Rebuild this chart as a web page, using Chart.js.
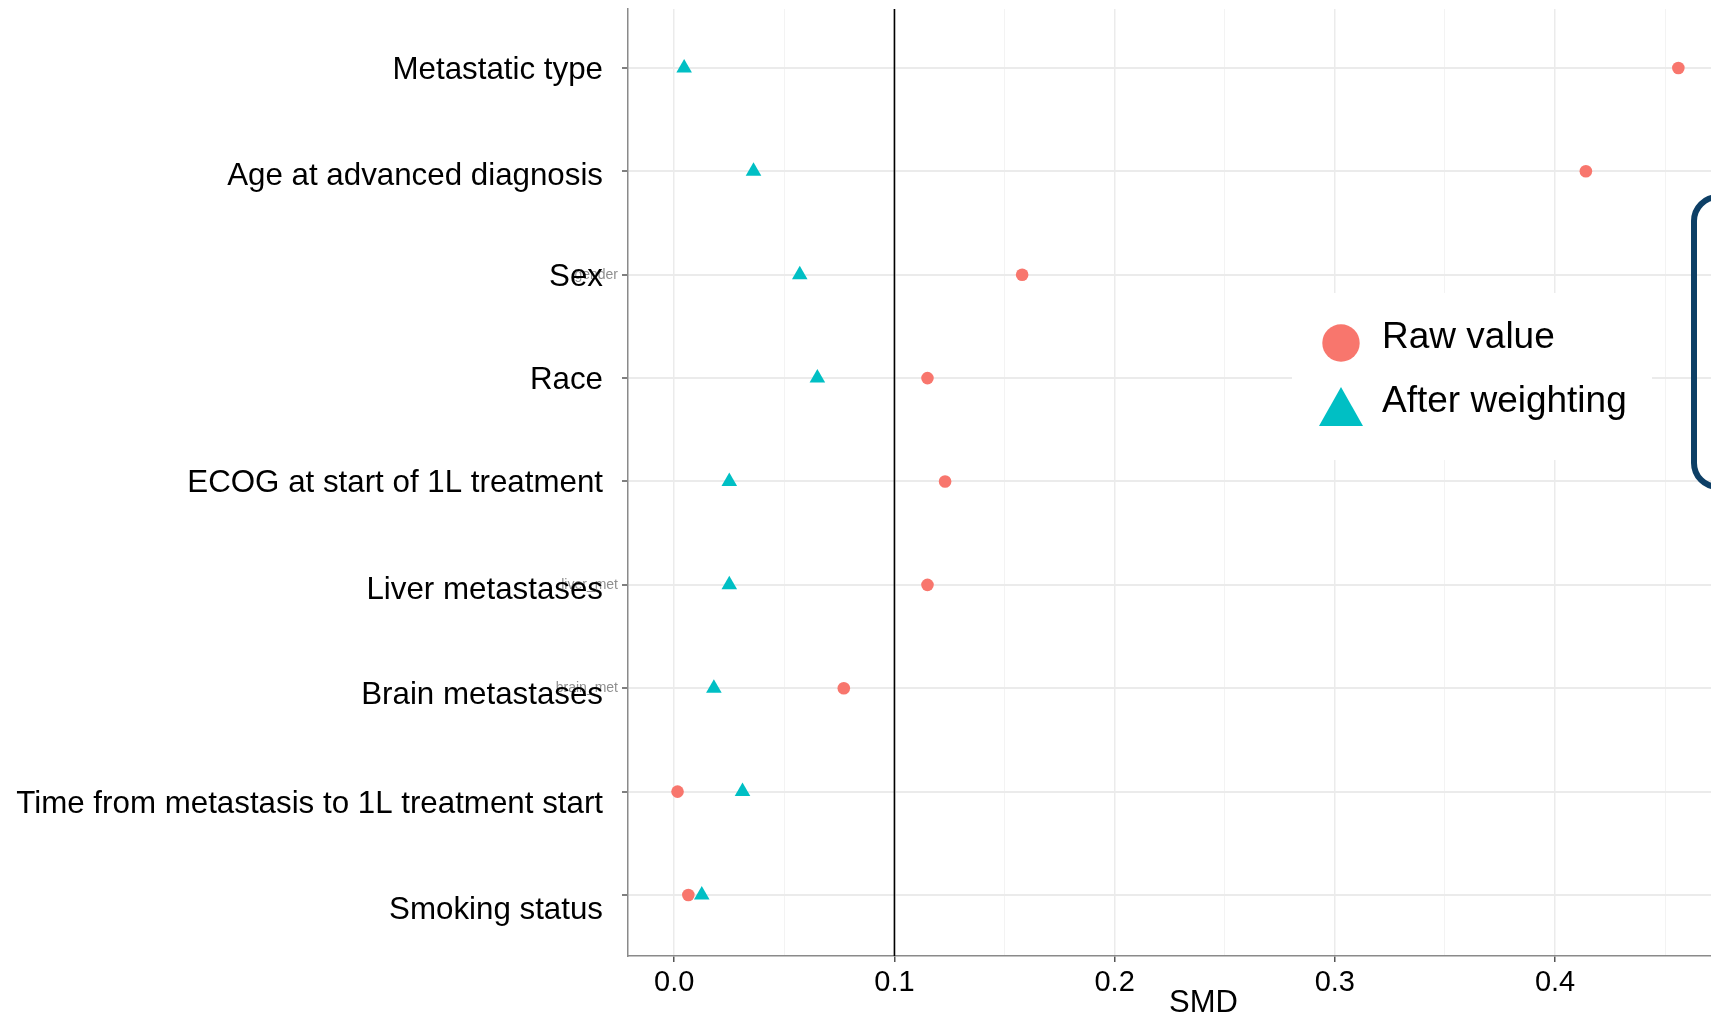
<!DOCTYPE html>
<html>
<head>
<meta charset="utf-8">
<title>Covariate balance: standardized mean differences</title>
<script src="https://cdn.jsdelivr.net/npm/chart.js@4.4.1/dist/chart.umd.min.js"></script>
<style>
  html, body { margin: 0; padding: 0; background: #ffffff; overflow: hidden; }
  #wrap { width: 1711px; height: 1015px; overflow: hidden; position: relative; }
  canvas { display: block; }
</style>
</head>
<body>
<div id="wrap"><canvas id="smd" width="1745" height="1015"></canvas></div>
<script>
// Covariates, top to bottom
const covariates = [
  'Metastatic type',
  'Age at advanced diagnosis',
  'Sex',
  'Race',
  'ECOG at start of 1L treatment',
  'Liver metastases',
  'Brain metastases',
  'Time from metastasis to 1L treatment start',
  'Smoking status'
];
// Variable names from the analysis dataset, shown faintly behind some labels
const sourceNames = ['', '', 'gender', '', '', 'liver_met', 'brain_met', '', ''];

// Standardized mean differences
const rawValue       = [0.456, 0.414, 0.158, 0.115, 0.123, 0.115, 0.077, 0.0015, 0.0064];
const afterWeighting = [0.0045, 0.036, 0.057, 0.065, 0.025, 0.025, 0.018, 0.031, 0.0125];

const seriesNames  = ['Raw value', 'After weighting'];
const seriesColors = ['#F8766D', '#00BFC4'];

const majorTicks = [0, 0.1, 0.2, 0.3, 0.4];
const minorTicks = [0.05, 0.15, 0.25, 0.35, 0.45];
const threshold  = 0.1;
const axisTitle  = 'SMD';

const FONT = '"Liberation Sans", Arial, Helvetica, sans-serif';

const toPoints = vals => vals.map((v, i) => ({ x: v, y: i + 1 }));

// Extra drawing: background, covariate labels, threshold line,
// inset legend, axis title and the callout frame at the right edge.
const decorations = {
  id: 'decorations',
  beforeDraw(chart, args, opts) {
    const { ctx, scales, chartArea } = chart;
    ctx.save();
    ctx.fillStyle = '#ffffff';
    ctx.fillRect(0, 0, chart.width, chart.height);
    // faint dataset variable names
    ctx.font = '14px ' + FONT;
    ctx.fillStyle = '#8f8f8f';
    ctx.textAlign = 'right';
    ctx.textBaseline = 'middle';
    sourceNames.forEach((name, i) => {
      if (!name) return;
      ctx.fillText(name, chartArea.left - 10, scales.y.getPixelForValue(i + 1));
    });
    // covariate labels on top
    const yl = opts.yLabels;
    ctx.font = yl.fontSize + 'px ' + FONT;
    ctx.fillStyle = '#000000';
    ctx.textBaseline = 'alphabetic';
    covariates.forEach((name, i) => {
      const y = scales.y.getPixelForValue(i + 1) + yl.baselineDrop + yl.nudge[i];
      ctx.fillText(name, chartArea.left - yl.gap, y);
    });
    ctx.restore();
  },
  beforeDatasetsDraw(chart, args, opts) {
    const { ctx, chartArea, scales } = chart;
    ctx.save();
    // legend backdrop hides the grid behind the key
    const b = opts.legendBox;
    ctx.fillStyle = '#ffffff';
    ctx.fillRect(b.x, b.y, b.w, b.h);
    // 0.1 balance threshold
    const tx = scales.x.getPixelForValue(threshold);
    ctx.strokeStyle = '#000000';
    ctx.lineWidth = 1.6;
    ctx.beginPath();
    ctx.moveTo(tx, chartArea.top);
    ctx.lineTo(tx, chartArea.bottom);
    ctx.stroke();
    ctx.restore();
  },
  afterDraw(chart, args, opts) {
    const { ctx } = chart;
    ctx.save();
    // inset legend
    const L = opts.legend;
    const order = [1, 0]; // dataset indices: Raw value first, then After weighting
    order.forEach((di, row) => {
      const ds = chart.data.datasets[di];
      const cy = L.rows[row];
      const my = cy + L.markerDrop;
      ctx.fillStyle = ds.backgroundColor;
      ctx.beginPath();
      if (ds.pointStyle === 'triangle') {
        ctx.moveTo(L.markerX, my - L.triH / 2);
        ctx.lineTo(L.markerX + L.triW / 2, my + L.triH / 2);
        ctx.lineTo(L.markerX - L.triW / 2, my + L.triH / 2);
        ctx.closePath();
      } else {
        ctx.arc(L.markerX, my, L.circleR, 0, Math.PI * 2);
      }
      ctx.fill();
      ctx.fillStyle = '#000000';
      ctx.font = L.fontSize + 'px ' + FONT;
      ctx.textAlign = 'left';
      ctx.textBaseline = 'alphabetic';
      ctx.fillText(ds.label, L.textX, cy + L.baselineDrop);
    });

    // x axis title
    ctx.fillStyle = '#000000';
    ctx.font = '31px ' + FONT;
    ctx.textAlign = 'center';
    ctx.textBaseline = 'alphabetic';
    ctx.fillText(axisTitle, opts.title.x, opts.title.y);

    // callout frame
    const f = opts.frame;
    ctx.strokeStyle = f.color;
    ctx.lineWidth = f.lineWidth;
    ctx.beginPath();
    ctx.roundRect(f.x, f.y, f.w, f.h, f.r);
    ctx.stroke();
    ctx.restore();
  }
};

const isMajor = v => majorTicks.includes(v);

new Chart(document.getElementById('smd'), {
  type: 'scatter',
  data: {
    datasets: [
      {
        label: seriesNames[1],
        data: toPoints(afterWeighting),
        pointStyle: 'triangle',
        pointRadius: 9,
        pointHoverRadius: 9,
        backgroundColor: seriesColors[1],
        borderWidth: 0,
        order: 0
      },
      {
        label: seriesNames[0],
        data: toPoints(rawValue),
        pointStyle: 'circle',
        pointRadius: 6.3,
        pointHoverRadius: 6.3,
        backgroundColor: seriesColors[0],
        borderWidth: 0,
        order: 1
      }
    ]
  },
  options: {
    responsive: false,
    animation: false,
    devicePixelRatio: 1,
    layout: { padding: { top: 9, right: 16, left: 0, bottom: 0 } },
    plugins: {
      legend: { display: false },
      tooltip: { enabled: false },
      decorations: {
        yLabels: {
          fontSize: 31.3,
          gap: 25,
          baselineDrop: 11,
          nudge: [0, 3, 0, 0, 0, 3, 5, 10, 13]
        },
        legendBox: { x: 1292, y: 293, w: 360, h: 167 },
        legend: {
          rows: [335, 398.5],
          markerX: 1341,
          markerDrop: 8,
          circleR: 18.7,
          triW: 44,
          triH: 39,
          textX: 1382,
          baselineDrop: 13,
          fontSize: 37
        },
        title: { x: 1203.5, y: 1012 },
        frame: { x: 1694, y: 197, w: 200, h: 290, r: 24, lineWidth: 6, color: '#0d3f66' }
      }
    },
    scales: {
      x: {
        type: 'linear',
        min: -0.021,
        max: 0.479,
        afterBuildTicks: s => {
          s.ticks = majorTicks.concat(minorTicks).sort((a, b) => a - b).map(v => ({ value: v }));
        },
        afterFit: s => { s.height = 59; s.paddingLeft = 0; s.paddingRight = 0; },
        ticks: {
          autoSkip: false,
          maxRotation: 0,
          padding: 4,
          color: '#000000',
          font: { family: FONT, size: 29 },
          callback: v => (isMajor(v) ? v.toFixed(1) : '')
        },
        grid: {
          color: c => (c.tick && isMajor(c.tick.value) ? '#EBEBEB' : '#F3F3F3'),
          lineWidth: c => (c.tick && isMajor(c.tick.value) ? 1.5 : 1),
          tickLength: 6,
          tickWidth: 1.5,
          tickColor: c => (c.tick && isMajor(c.tick.value) ? '#555555' : 'rgba(0,0,0,0)')
        },
        border: { color: '#8a8a8a', width: 1.5 }
      },
      y: {
        type: 'linear',
        reverse: true,
        min: 0.43,
        max: 9.59,
        afterBuildTicks: s => {
          s.ticks = covariates.map((_, i) => ({ value: i + 1 }));
        },
        afterFit: s => { s.width = 628; s.paddingTop = 0; s.paddingBottom = 0; },
        ticks: { display: false },
        grid: {
          color: '#EBEBEB',
          lineWidth: 2,
          tickLength: 6,
          tickWidth: 1.5,
          tickColor: '#555555'
        },
        border: { color: '#8a8a8a', width: 1.5 }
      }
    }
  },
  plugins: [decorations]
});
</script>
</body>
</html>
